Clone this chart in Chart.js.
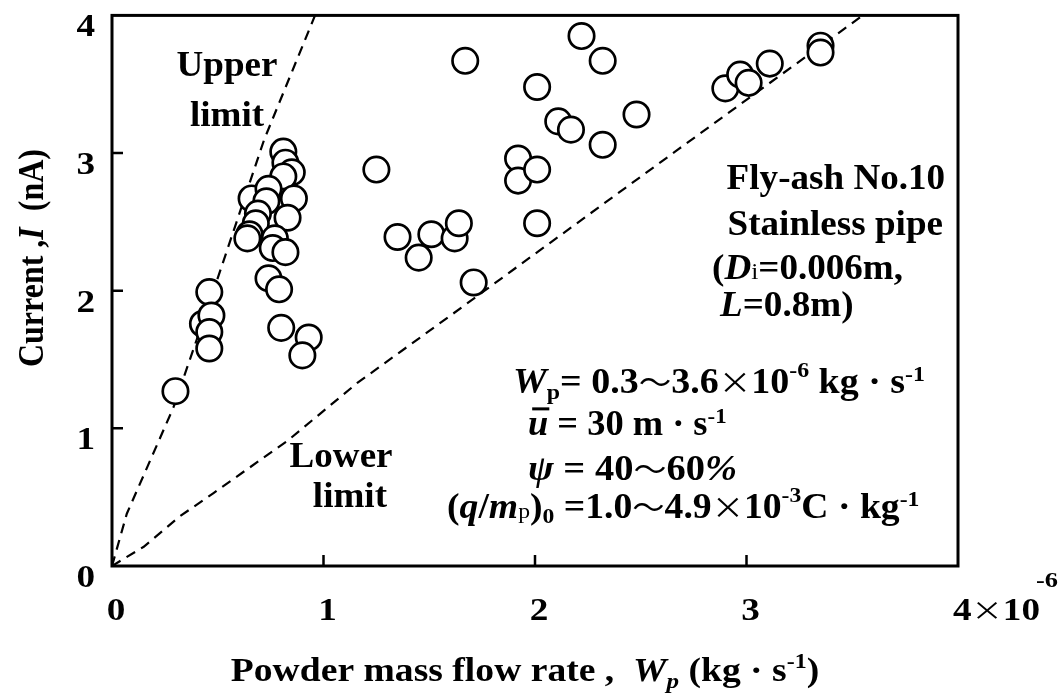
<!DOCTYPE html>
<html>
<head>
<meta charset="utf-8">
<script src="https://cdn.jsdelivr.net/npm/chart.js@4.4.1/dist/chart.umd.min.js"></script>
<style>
  html, body { margin: 0; padding: 0; background: #fff; }
  canvas { display: block; }
</style>
</head>
<body>
<canvas id="chart" width="1061" height="697"></canvas>
<script>
// Measured points (x in 10^-6 kg/s, y in nA)
const flowRate = [
    0.30, 0.46, 0.43, 0.47, 0.46, 0.46,
    0.81, 0.82, 0.85, 0.81, 0.66, 0.74, 0.86, 0.73, 0.69, 0.83, 0.68, 0.65, 0.64, 0.77, 0.76, 0.82, 0.74, 0.79, 0.80, 0.93, 0.90,
    1.25, 1.35, 1.45, 1.51, 1.62, 1.64, 1.71, 1.67, 1.92, 1.92, 2.01, 2.01, 2.01, 2.11, 2.17, 2.22, 2.32, 2.32, 2.48,
    2.90, 2.97, 3.01, 3.11, 3.35, 3.35
];
const current = [
    1.27, 1.99, 1.76, 1.82, 1.70, 1.58,
    3.01, 2.93, 2.86, 2.83, 2.67, 2.74, 2.67, 2.65, 2.56, 2.53, 2.49, 2.41, 2.38, 2.38, 2.31, 2.28, 2.09, 2.01, 1.73, 1.66, 1.53,
    2.88, 2.39, 2.24, 2.41, 2.38, 2.49, 2.06, 3.67, 2.96, 2.80, 2.88, 2.49, 3.48, 3.23, 3.17, 3.85, 3.67, 3.06, 3.28,
    3.47, 3.57, 3.51, 3.65, 3.78, 3.73
];

// Upper / lower limit dashed lines
const upperX = [0, 0.07, 0.29, 0.48, 0.72, 0.96];
const upperY = [0, 0.38, 1.15, 2.00, 3.10, 4.00];
const lowerX = [0, 0.15, 0.32, 0.48, 0.83, 1.16, 1.61, 2.10, 2.68, 3.55];
const lowerY = [0, 0.14, 0.36, 0.53, 0.91, 1.33, 1.83, 2.38, 3.03, 4.00];

const xTicks = [0, 1, 2, 3, 4];
const yTicks = [0, 1, 2, 3, 4];

const toPts = (xs, ys) => xs.map((x, i) => ({ x: x, y: ys[i] }));

const SERIF = '"Liberation Serif", "Times New Roman", serif';
const CJK = '"Noto Sans CJK JP", sans-serif';
const B = s => 'bold ' + s + 'px ' + SERIF;
const BI = s => 'italic bold ' + s + 'px ' + SERIF;
const R = s => s + 'px ' + SERIF;
const J = s => s + 'px ' + CJK;

// draw a line of mixed fonts: segs = [text, font, dy, deco]; hx = horizontal stretch
function rich(ctx, x, y, segs, align, hx) {
    hx = hx || 1;
    let w = 0;
    segs.forEach(s => { ctx.font = s[1]; w += ctx.measureText(s[0]).width; });
    const sx = align === 'center' ? x - w * hx / 2 : align === 'right' ? x - w * hx : x;
    ctx.save();
    ctx.translate(sx, y);
    ctx.scale(hx, 1);
    ctx.textAlign = 'left';
    ctx.textBaseline = 'alphabetic';
    let cx = 0;
    segs.forEach(s => {
        ctx.font = s[1];
        const sw = ctx.measureText(s[0]).width;
        ctx.fillText(s[0], cx, s[2] || 0);
        if (s[3] === 'bar') ctx.fillRect(cx + 4, -28, sw - 3, 3);
        cx += sw;
    });
    ctx.restore();
}

const F = 35;   // annotation size
const S = 22;   // super/subscript size
const TF = 31;  // tick label size

const extras = {
    id: 'extras',
    afterDraw(chart) {
        const ctx = chart.ctx;
        const a = chart.chartArea;
        const xs = chart.scales.x, ys = chart.scales.y;
        const px = v => xs.getPixelForValue(v);
        const py = v => ys.getPixelForValue(v);
        ctx.save();
        ctx.fillStyle = '#000';
        ctx.strokeStyle = '#000';

        // frame
        ctx.lineWidth = 3;
        ctx.strokeRect(a.left, a.top, a.right - a.left, a.bottom - a.top);
        // inward tick marks
        ctx.lineWidth = 2.5;
        ctx.beginPath();
        xTicks.slice(1, -1).forEach(t => { ctx.moveTo(px(t), a.bottom); ctx.lineTo(px(t), a.bottom - 11); });
        yTicks.slice(1, -1).forEach(t => { ctx.moveTo(a.left, py(t)); ctx.lineTo(a.left + 11, py(t)); });
        ctx.stroke();

        // tick labels
        yTicks.forEach(t => rich(ctx, a.left - 17, py(t) + 21, [[String(t), B(TF)]], 'right', 1.2));
        xTicks.slice(0, -1).forEach(t => rich(ctx, px(t) + 4, a.bottom + 54, [[String(t), B(TF)]], 'center', 1.2));
        rich(ctx, px(4) - 5, a.bottom + 54, [['4', B(TF)], ['×', J(26)], ['10', B(TF)]], 'left', 1.2);
        rich(ctx, px(4) + 78, a.bottom + 21, [['-6', B(22)]], 'left', 1.2);

        // axis titles
        rich(ctx, 525, 681, [
            ['Powder mass flow rate ,  ', B(33)], ['W', BI(33)], ['p', BI(22), 7],
            [' (kg · s', B(33)], ['-1', B(21), -13], [')', B(33)]
        ], 'center', 1.14);
        ctx.save();
        ctx.translate(43, 258);
        ctx.rotate(-Math.PI / 2);
        ctx.scale(1, 1.1);
        rich(ctx, 0, 0, [['Current ,', B(32)], ['I', BI(32)], ['  (nA)', B(32)]], 'center');
        ctx.restore();

        // in-plot annotations
        rich(ctx, px(0.544), py(3.558), [['Upper', B(F)]], 'center', 1.06);
        rich(ctx, px(0.544), py(3.196), [['limit', B(F)]], 'center', 1.06);
        rich(ctx, px(1.083), py(0.717), [['Lower', B(F)]], 'center', 1.06);
        rich(ctx, px(1.125), py(0.428), [['limit', B(F)]], 'center', 1.06);

        rich(ctx, px(3.939), py(2.739), [['Fly-ash No.10', B(F)]], 'right', 1.06);
        rich(ctx, px(3.929), py(2.406), [['Stainless pipe', B(F)]], 'right', 1.06);
        rich(ctx, px(2.837), py(2.087), [['(', B(F)], ['D', BI(F)], ['i', R(24)], ['=0.006m,', B(F)]], 'left', 1.06);
        rich(ctx, px(2.875), py(1.819), [['L', BI(F)], ['=0.8m)', B(F)]], 'left', 1.06);

        rich(ctx, px(1.896), py(1.254), [
            ['W', BI(F)], ['p', B(S), 6], ['= 0.3', B(F)], ['～', J(30)], ['3.6', B(F)], ['×', J(30)],
            ['10', B(F)], ['-6', B(S), -16], [' kg · s', B(F)], ['-1', B(S), -12]
        ], 'left', 1.085);
        rich(ctx, px(1.967), py(0.949), [
            ['u', BI(F), 0, 'bar'], [' = 30 m · s', B(F)], ['-1', B(S), -12]
        ], 'left', 1.04);
        rich(ctx, px(1.967), py(0.623), [
            ['ψ', BI(F)], [' = 40', B(F)], ['～', J(30)], ['60', B(F)], ['%', BI(F)]
        ], 'left', 1.1);
        rich(ctx, px(1.584), py(0.348), [
            ['(', B(F)], ['q', BI(F)], ['/', B(F)], ['m', BI(F)], ['p', R(S)], [')', B(F)], ['0', B(S), 5],
            [' =1.0', B(F)], ['～', J(30)], ['4.9', B(F)], ['×', J(30)], ['10', B(F)], ['-3', B(S), -16],
            ['C · kg', B(F)], ['-1', B(S), -12]
        ], 'left', 1.076);

        ctx.restore();
    }
};

const lineStyle = {
    type: 'line',
    borderColor: '#000',
    borderWidth: 2.2,
    borderDash: [10, 7],
    pointRadius: 0,
    fill: false,
    tension: 0,
    order: 1
};

new Chart(document.getElementById('chart').getContext('2d'), {
    type: 'scatter',
    data: {
        datasets: [{
            label: 'Current',
            data: toPts(flowRate, current),
            pointRadius: 12.7,
            pointHoverRadius: 12.7,
            pointBorderWidth: 2.7,
            pointBackgroundColor: '#fff',
            pointBorderColor: '#000',
            backgroundColor: '#fff',
            borderColor: '#000',
            order: 0
        },
        Object.assign({ label: 'Upper limit', data: toPts(upperX, upperY) }, lineStyle),
        Object.assign({ label: 'Lower limit', data: toPts(lowerX, lowerY) }, lineStyle)]
    },
    options: {
        responsive: false,
        animation: false,
        devicePixelRatio: 1,
        layout: { padding: { top: 14, right: 103, left: 0, bottom: 0 } },
        plugins: { legend: { display: false }, tooltip: { enabled: false } },
        scales: {
            x: {
                type: 'linear', min: 0, max: 4,
                grid: { display: false, drawTicks: false },
                border: { display: false },
                afterBuildTicks: s => { s.ticks = xTicks.map(v => ({ value: v })); },
                afterFit: s => { s.height = 131; },
                ticks: { display: false }
            },
            y: {
                type: 'linear', min: 0, max: 4,
                grid: { display: false, drawTicks: false },
                border: { display: false },
                afterBuildTicks: s => { s.ticks = yTicks.map(v => ({ value: v })); },
                afterFit: s => { s.width = 112; },
                ticks: { display: false }
            }
        }
    },
    plugins: [extras]
});
</script>
</body>
</html>
